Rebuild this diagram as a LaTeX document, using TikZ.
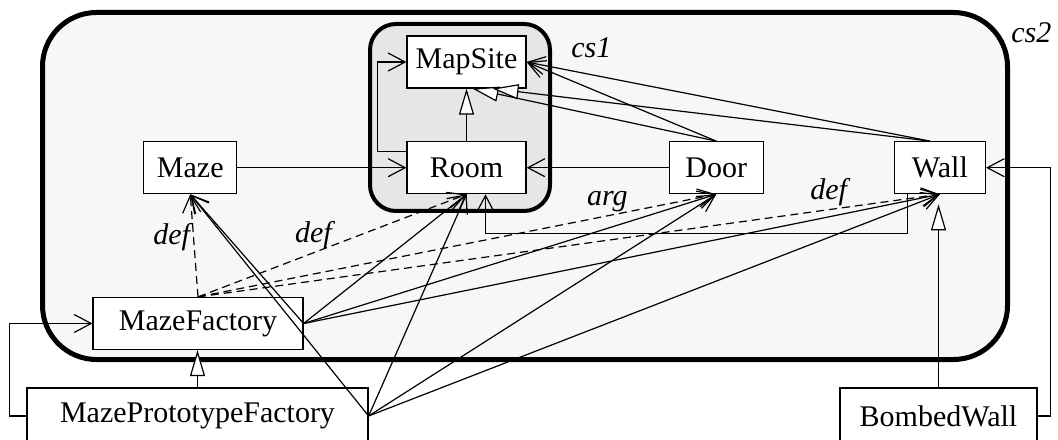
\documentclass[tikz,border=0pt]{standalone}
\usepackage{fontspec}
\setmainfont{Liberation Serif}
\definecolor{shade1}{RGB}{247,247,247}
\definecolor{shade2}{RGB}{230,230,230}
\usetikzlibrary{arrows.meta, positioning}

\begin{document}
\begin{tikzpicture}[x=1pt, y=1pt,
  font=\fontsize{15}{18}\selectfont,
  wire/.style={line width=0.6pt},
  cls/.style={draw, wire, fill=white, minimum height=26pt, inner sep=0pt},
  cluster/.style={draw, rounded corners=#1, inner sep=0pt},
  lbl/.style={font=\fontsize{15}{18}\selectfont\itshape, inner sep=1.5pt},
  assoc/.style={wire, -{Straight Barb[length=8.5pt, width=9pt]}},
  inherit/.style={wire, -{Triangle[length=13pt, width=7.5pt, fill=white]}},
  dep/.style={assoc, dash pattern=on 4pt off 2.5pt}]
  \useasboundingbox (0,0) rectangle (529,219.5);

  % the two clusters
  \node[cluster=27pt, line width=2.5pt, fill=shade1, minimum width=482.5pt, minimum height=173.5pt] (cs2) at (262.5,126.5) {};
  \node[cluster=13pt, line width=2pt, fill=shade2, minimum width=90pt, minimum height=93.5pt] (cs1) at (230,160.75) {};
  \node[lbl, anchor=base west] (cs1-label) at (284,190.5) {cs1};
  \node[lbl, anchor=base west] (cs2-label) at (504,198) {cs2};

  % classes
  \node[cls, minimum width=59.5pt] (mapsite) at (233.25,188.5) {MapSite};
  \node[cls, minimum width=59.5pt, below=26.25pt of mapsite] (room) {Room};
  \node[cls, minimum width=46.5pt, left=84.5pt of room] (maze) {Maze};
  \node[cls, minimum width=47pt, right=71pt of room] (door) {Door};
  \node[cls, minimum width=45.5pt, right=65pt of door] (wall) {Wall};
  \node[cls, minimum width=105pt] (mf) at (99,57.75) {MazeFactory};
  \node[cls, minimum width=170.5pt, minimum height=28pt] (mpf) at (98.75,11.5) {MazePrototypeFactory};
  \node[cls, minimum width=98.5pt, minimum height=28pt] (bw) at (469.25,11.5) {BombedWall};

  % inside the clusters
  \draw[assoc] (maze) -- (room);
  \draw[assoc] (door) -- (room);
  \draw[inherit] (room) -- (mapsite);
  \draw[assoc] ([yshift=8.25pt]room.west) -- ++(-14.5,0) |- (mapsite.west);
  \draw[inherit] (door.north) -- ([xshift=3pt]mapsite.south);
  \draw[inherit] ([xshift=-5pt]wall.north) -- ([xshift=13pt]mapsite.south);
  \draw[assoc] (door.north) -- (mapsite.east);
  \draw[assoc] ([xshift=-5pt]wall.north) -- (mapsite.east);
  \draw[assoc] ([xshift=-16.25pt]wall.south) -- ++(0,-19.75) -| ([xshift=9.5pt]room.south);
  \draw[wire] (room.south) -- (room.south |- cs1.south);

  % factories
  \foreach \t/\txt/\p/\side in {maze/def/0.58/left, room/def/0.43/above, door/arg/0.79/above, wall/def/0.85/above}
    \draw[dep] (mf.north) -- node[lbl, pos=\p, \side] {\txt} (\t.south);
  \foreach \t in {maze, room, door, wall} {
    \draw[assoc] (mf.east) -- (\t.south);
    \draw[assoc] (mpf.east) -- (\t.south);
  }
  \draw[inherit] (mpf.north) -- (mpf.north |- mf.south);
  \draw[assoc] (mpf.west) -- ++(-8.5,0) |- (mf.west);

  % bombed wall
  \draw[inherit, shorten >=5pt] (bw.north) -- (bw.north |- wall.south);
  \draw[assoc] (bw.east) -- ++(6.5,0) |- (wall.east);
\end{tikzpicture}
\end{document}
